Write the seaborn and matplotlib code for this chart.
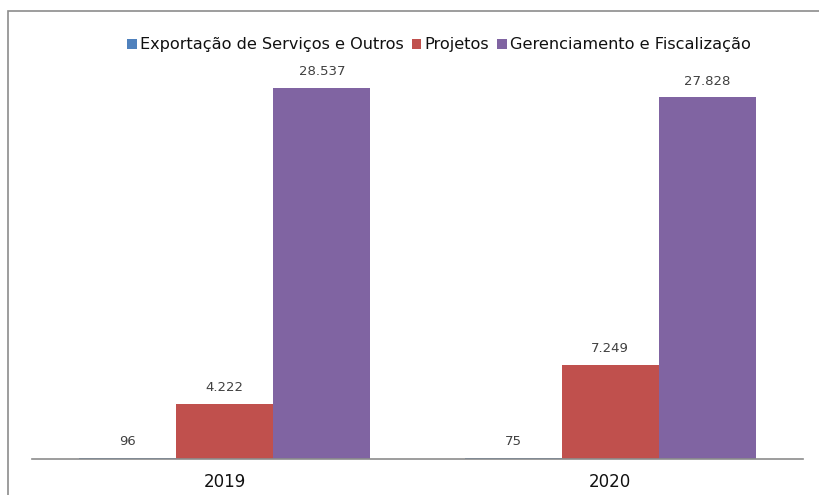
import matplotlib
matplotlib.use("Agg")
import matplotlib.pyplot as plt
import seaborn as sns
import pandas as pd
from matplotlib.patches import Rectangle

years = ["2019", "2020"]
series = ["Exportação de Serviços e Outros", "Projetos", "Gerenciamento e Fiscalização"]
exportacao = [96, 75]
projetos = [4222, 7249]
gerenciamento = [28537, 27828]
colors = ["#4F81BD", "#C0504D", "#8064A2"]

rows = []
for name, vals in zip(series, [exportacao, projetos, gerenciamento]):
    for y, v in zip(years, vals):
        rows.append({"Ano": y, "Série": name, "Valor": v})
df = pd.DataFrame(rows)

sns.set_theme(style="white")
plt.rcParams['font.family'] = 'DejaVu Sans'
plt.rcParams['font.sans-serif'] = ['DejaVu Sans']

fig = plt.figure(figsize=(8.2, 4.95), dpi=100)
ax = fig.add_axes([32/820, 36/495, (803-32)/820, (459-43)/495])

sns.barplot(data=df, x="Ano", y="Valor", hue="Série", hue_order=series,
            palette=colors, width=0.755, saturation=1, ax=ax, legend=True,
            linewidth=0, gap=0)

ax.set_xlim(-0.5, 1.5)
ax.set_ylim(0, 32000)
ax.set_xlabel("")
ax.set_ylabel("")
ax.set_yticks([])
for s in ["left", "right", "top"]:
    ax.spines[s].set_visible(False)
ax.spines["bottom"].set_color("#8c8c8c")
ax.spines["bottom"].set_linewidth(1.2)
ax.tick_params(axis="x", length=0, pad=10, labelsize=12, colors="#111111")
for t in ax.get_xticklabels():
    t.set_fontweight("medium")

for cont in ax.containers:
    labels = [f"{int(b.get_height()):,}".replace(",", ".") for b in cont]
    ax.bar_label(cont, labels=labels, padding=7, fontsize=9.5, color="#404040")

handles, labs = ax.get_legend_handles_labels()
leg = ax.legend(handles, labs, loc="center", bbox_to_anchor=(439/820, 1 - 45/495),
                bbox_transform=fig.transFigure, ncol=3, frameon=False,
                prop={"size": 11.6},
                handlelength=0.6, handleheight=0.6, handletextpad=0.2, columnspacing=0.5,
                borderaxespad=0)
for t in leg.get_texts():
    t.set_color("#111111")

fig.patches.append(Rectangle((8/820, -0.1), 1.2, 1 - 11/495 + 0.1,
                             transform=fig.transFigure, fill=False,
                             edgecolor="#8c8c8c", linewidth=1.2))

fig.savefig("out.png", dpi=100, facecolor="white")
